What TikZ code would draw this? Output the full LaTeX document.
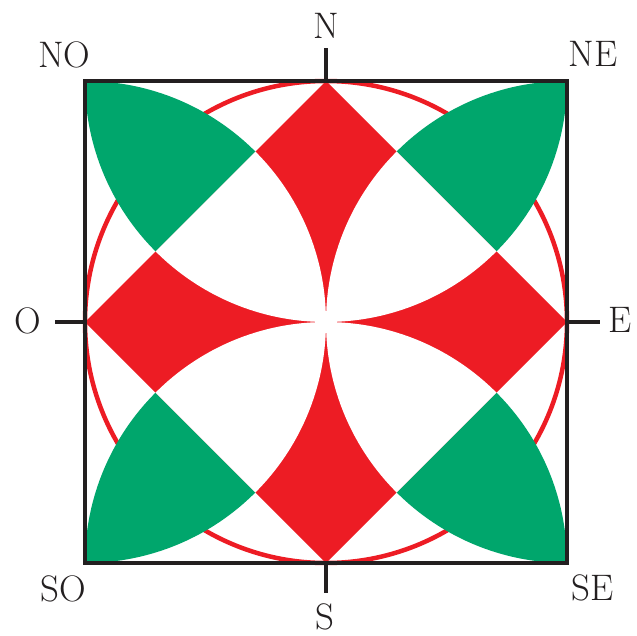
\documentclass[tikz,border=0pt]{standalone}
\usepackage{tikz}
\usetikzlibrary{calc}
\definecolor{RoseRed}{RGB}{237,28,36}
\definecolor{RoseGreen}{RGB}{0,166,108}
\definecolor{RoseBlack}{RGB}{35,31,32}

\begin{document}
\begin{tikzpicture}[
      font=\fontsize{21}{21}\selectfont,
      frame/.style={draw=RoseBlack,line width=0.065cm},
      tick/.style={draw=RoseBlack,line width=0.065cm},
      ring/.style={draw=RoseRed,line width=0.09cm},
      wind/.style={inner sep=0pt,text=RoseBlack}
    ]
      \useasboundingbox (-6.52,-6.26) rectangle (6.22,6.44);
      \def\R{4.82}
      \coordinate (N) at (0,\R);
      \coordinate (E) at (\R,0);
      \coordinate (S) at (0,-\R);
      \coordinate (O) at (-\R,0);
      \coordinate (NO) at (-\R,\R);
      \coordinate (NE) at (\R,\R);
      \coordinate (SE) at (\R,-\R);
      \coordinate (SO) at (-\R,-\R);

      \draw[ring] (0,0) circle (\R);
      \fill[RoseRed] (N) -- (E) -- (S) -- (O) -- cycle;
      \foreach \p/\c/\q in {N/NO/O,N/NE/E,S/SE/E,S/SO/O}{
        \begin{scope}
          \clip (\p) -- (\c) -- (\q) -- cycle;
          \clip (\p) circle (\R);
          \fill[RoseGreen] (\q) circle (\R);
        \end{scope}
        \begin{scope}
          \clip (N) -- (E) -- (S) -- (O) -- cycle;
          \clip (\p) circle (\R);
          \fill[white] (\q) circle (\R);
        \end{scope}
      }

      \draw[frame] (NO) rectangle (SE);
      \draw[tick] (N) -- ++(0,0.66);
      \draw[tick] (E) -- ++(0.66,0);
      \draw[tick] (S) -- ++(0,-0.6);
      \draw[tick] (O) -- ++(-0.6,0);

      \node[wind] (lN) at (0,5.92) {N};
      \node[wind] (lE) at (5.88,0.04) {E};
      \node[wind] (lS) at (-0.02,-5.9) {S};
      \node[wind] (lO) at (-5.96,0.02) {O};
      \node[wind] (lNO) at (-5.23,5.35) {NO};
      \node[wind] (lNE) at (5.34,5.37) {NE};
      \node[wind] (lSE) at (5.34,-5.32) {SE};
      \node[wind] (lSO) at (-5.26,-5.34) {SO};
    \end{tikzpicture}
\end{document}
